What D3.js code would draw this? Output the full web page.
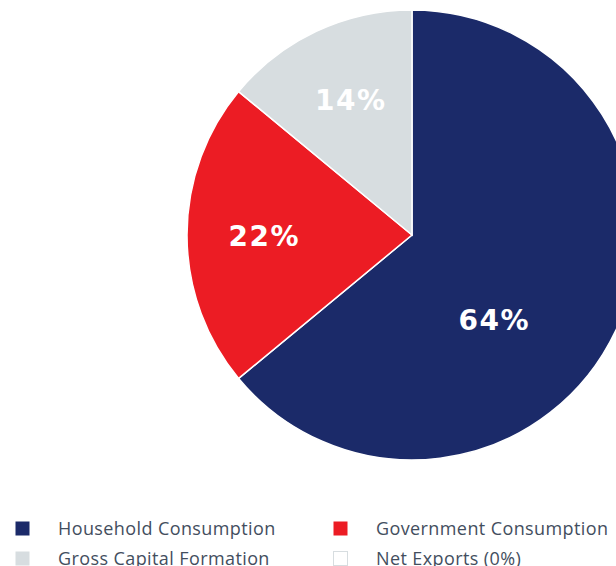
<!DOCTYPE html>
<html><head><meta charset="utf-8">
<script src="https://cdn.jsdelivr.net/npm/d3@7"></script>
<style>html,body{margin:0;padding:0;background:#fff;overflow:hidden}</style>
</head><body>
<svg id="c" width="616" height="566"></svg>
<script>
const categories = ["Household Consumption", "Government Consumption", "Gross Capital Formation", "Net Exports (0%)"];
const values = [64, 22, 14, 0];
const labels = ["64%", "22%", "14%", ""];
const colors = ["#1b2a69", "#ec1c24", "#d7dde0", "#ffffff"];

const svg = d3.select("#c");
const cx = 412, cy = 235, R = 225;
const pie = d3.pie().sort(null).value(d => d.v);
const data = categories.map((c, i) => ({c, v: values[i], l: labels[i], col: colors[i]}));
const arcs = pie(data);
const arc = d3.arc().innerRadius(0).outerRadius(R);
const g = svg.append("g").attr("transform", `translate(${cx},${cy})`);
g.selectAll("path").data(arcs.filter(a => a.data.v > 0)).join("path")
  .attr("d", arc).attr("fill", a => a.data.col)
  .attr("stroke", "#fff").attr("stroke-width", 1.5);

// label placement: centroid at ~0.67R; the largest slice is shifted toward its visible part
const labelArc = d3.arc().innerRadius(R * 0.67).outerRadius(R * 0.67);
const bigShift = 0.36;
g.selectAll("text.lbl").data(arcs.filter(a => a.data.v > 0)).join("text")
  .attr("class", "lbl")
  .attr("transform", a => {
    if (a.index === 0) {
      const ang = (a.startAngle + a.endAngle) / 2 + bigShift;
      const r = R * 0.525;
      return `translate(${r * Math.sin(ang)},${-r * Math.cos(ang)})`;
    }
    const [x, y] = labelArc.centroid(a);
    return `translate(${x + 3},${y + 1})`;
  })
  .attr("text-anchor", "middle").attr("dy", "0.36em")
  .attr("fill", "#fff").attr("font-family", "DejaVu Sans").attr("font-weight", "bold")
  .attr("font-size", 28).attr("letter-spacing", 1.5)
  .text(a => a.data.l);

// legend
const lg = svg.append("g");
const colX = [15, 333], rowY = [529, 559];
data.forEach((d, i) => {
  const x = colX[i % 2], y = rowY[Math.floor(i / 2)];
  lg.append("rect").attr("x", x + 0.5).attr("y", y - 7.5).attr("width", 14).attr("height", 14)
    .attr("fill", d.col).attr("stroke", d.v === 0 ? "#d7dde0" : "none");
  lg.append("text").attr("x", x + 43).attr("y", y).attr("dy", "0.35em")
    .attr("font-family", "Open Sans").attr("font-size", 18).attr("letter-spacing", 0.4)
    .attr("fill", "#434e5e")
    .text(d.c);
});
</script>
</body></html>
